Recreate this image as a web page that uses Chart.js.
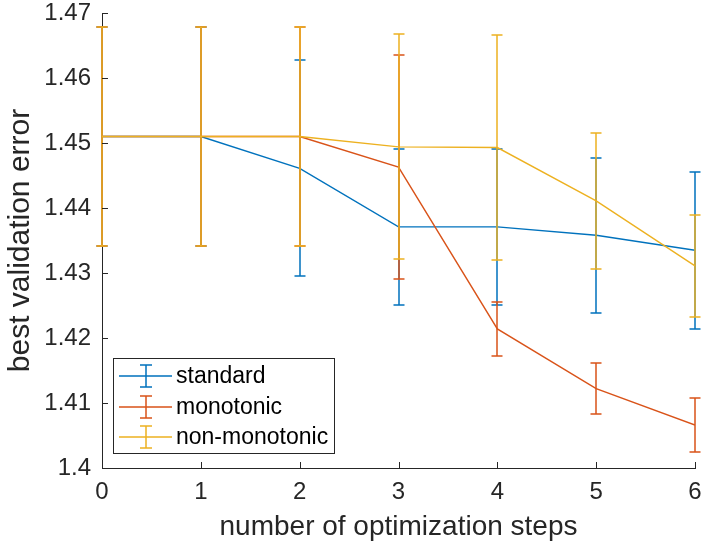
<!DOCTYPE html>
<html>
<head>
<meta charset="utf-8">
<script src="https://cdn.jsdelivr.net/npm/chart.js@4.4.1/dist/chart.umd.min.js"></script>
<style>
  body { margin: 0; background: #fff; }
  #wrap { width: 702px; height: 546px; }
</style>
</head>
<body>
<div id="wrap"><canvas id="errChart" width="702" height="546"></canvas></div>
<script>
// x positions (number of optimization steps)
const xSteps = [0, 1, 2, 3, 4, 5, 6];
const xTicks = [0, 1, 2, 3, 4, 5, 6];
const yTicks = [1.40, 1.41, 1.42, 1.43, 1.44, 1.45, 1.46, 1.47];
const yTickLabels = ['1.4', '1.41', '1.42', '1.43', '1.44', '1.45', '1.46', '1.47'];

// mean best validation error and error bar half-heights
const standard = [1.4510, 1.4510, 1.4461, 1.4371, 1.4371, 1.4358, 1.4335];
const standardErr = [0.0169, 0.0169, 0.0166, 0.0120, 0.0120, 0.0119, 0.0121];
const monotonic = [1.4510, 1.4510, 1.4510, 1.4463, 1.4214, 1.4122, 1.4066];
const monotonicErr = [0.0169, 0.0169, 0.0169, 0.0172, 0.0041, 0.0039, 0.0041];
const nonMonotonic = [1.4510, 1.4510, 1.4510, 1.4494, 1.4493, 1.4411, 1.4311];
const nonMonotonicErr = [0.0169, 0.0169, 0.0169, 0.0173, 0.0173, 0.0105, 0.0078];

const FONT = "'Liberation Sans', Arial, Helvetica, sans-serif";
const AXIS = '#262626';

function pts(ys) {
  return xSteps.map((x, i) => ({ x: x, y: ys[i] }));
}

// error bars are drawn right after their own line, so the stacking matches
const errorBars = {
  id: 'errorBars',
  afterDatasetDraw(chart, args) {
    const ds = chart.data.datasets[args.index];
    const { ctx } = chart;
    const x = chart.scales.x, y = chart.scales.y;
    const cap = 5.5;
    ctx.save();
    ctx.strokeStyle = ds.borderColor;
    ctx.lineWidth = 1.5;
    ds.data.forEach((p, i) => {
      const e = ds.errors[i];
      // snap to whole pixels so overlapping bars cover each other
      const px = Math.round(x.getPixelForValue(p.x));
      const top = Math.round(y.getPixelForValue(p.y + e));
      const bot = Math.round(y.getPixelForValue(p.y - e));
      ctx.beginPath();
      ctx.moveTo(px, top); ctx.lineTo(px, bot);
      ctx.moveTo(px - cap, top); ctx.lineTo(px + cap, top);
      ctx.moveTo(px - cap, bot); ctx.lineTo(px + cap, bot);
      ctx.stroke();
    });
    ctx.restore();
  }
};

// inward ticks (matlab style) and the legend box in the lower left
const axesExtras = {
  id: 'axesExtras',
  afterDraw(chart) {
    const { ctx, chartArea: ca } = chart;
    const x = chart.scales.x, y = chart.scales.y;
    ctx.save();
    ctx.strokeStyle = AXIS;
    ctx.lineWidth = 1;
    ctx.beginPath();
    xTicks.forEach(v => {
      const px = Math.round(x.getPixelForValue(v)) + 0.5;
      ctx.moveTo(px, ca.bottom); ctx.lineTo(px, ca.bottom - 6);
    });
    yTicks.forEach(v => {
      const py = Math.round(y.getPixelForValue(v)) + 0.5;
      ctx.moveTo(ca.left, py); ctx.lineTo(ca.left + 6, py);
    });
    ctx.stroke();

    // legend
    const lx = 113, ly = 358, lw = 221, lh = 95;
    ctx.fillStyle = '#fff';
    ctx.fillRect(lx, ly, lw, lh);
    ctx.strokeRect(lx + 0.5, ly + 0.5, lw, lh);
    ctx.font = '23px ' + FONT;
    ctx.textBaseline = 'middle';
    chart.data.datasets.forEach((ds, i) => {
      const cy = Math.round(ly + 18 + i * 30.5);
      ctx.strokeStyle = ds.borderColor;
      ctx.lineWidth = 1.5;
      ctx.beginPath();
      ctx.moveTo(119, cy); ctx.lineTo(172, cy);
      ctx.moveTo(146, cy - 11); ctx.lineTo(146, cy + 11);
      ctx.moveTo(140, cy - 11); ctx.lineTo(152, cy - 11);
      ctx.moveTo(140, cy + 11); ctx.lineTo(152, cy + 11);
      ctx.stroke();
      ctx.fillStyle = '#000';
      ctx.fillText(ds.label, 176, cy + 1);
    });
    ctx.restore();
  }
};

new Chart(document.getElementById('errChart').getContext('2d'), {
  type: 'line',
  data: {
    datasets: [
      { label: 'standard', data: pts(standard), errors: standardErr,
        borderColor: '#0072BD', borderWidth: 1.4, order: 3 },
      { label: 'monotonic', data: pts(monotonic), errors: monotonicErr,
        borderColor: '#D95319', borderWidth: 1.4, order: 2 },
      { label: 'non-monotonic', data: pts(nonMonotonic), errors: nonMonotonicErr,
        borderColor: '#EDB120', borderWidth: 1.4, order: 1 }
    ]
  },
  options: {
    responsive: false,
    animation: false,
    layout: { padding: { left: 0, top: 13, right: 7, bottom: 0 } },
    elements: { point: { radius: 0 }, line: { tension: 0, fill: false } },
    plugins: { legend: { display: false }, tooltip: { enabled: false } },
    scales: {
      x: {
        type: 'linear', min: 0, max: 6,
        afterBuildTicks: s => { s.ticks = xTicks.map(v => ({ value: v })); },
        afterFit: s => { s.height = 78; s.paddingLeft = 0; s.paddingRight = 0; },
        grid: { display: true, drawOnChartArea: false, drawTicks: false },
        border: { display: true, color: AXIS, width: 1 },
        ticks: { color: AXIS, padding: 10, maxRotation: 0, font: { family: FONT, size: 24 } },
        title: { display: true, text: 'number of optimization steps', color: AXIS,
                 padding: { top: 0, bottom: 2 }, font: { family: FONT, size: 28 } }
      },
      y: {
        type: 'linear', min: 1.4, max: 1.47,
        afterBuildTicks: s => { s.ticks = yTicks.map(v => ({ value: v })); },
        afterFit: s => { s.width = 102; s.paddingTop = 0; s.paddingBottom = 0; },
        grid: { display: true, drawOnChartArea: false, drawTicks: false },
        border: { display: true, color: AXIS, width: 1 },
        ticks: { color: AXIS, padding: 11, font: { family: FONT, size: 24 },
                 callback: (v, i) => yTickLabels[i] },
        title: { display: true, text: 'best validation error', color: AXIS,
                 padding: { top: 3, bottom: 0 }, font: { family: FONT, size: 30 } }
      }
    }
  },
  plugins: [errorBars, axesExtras]
});
</script>
</body>
</html>
